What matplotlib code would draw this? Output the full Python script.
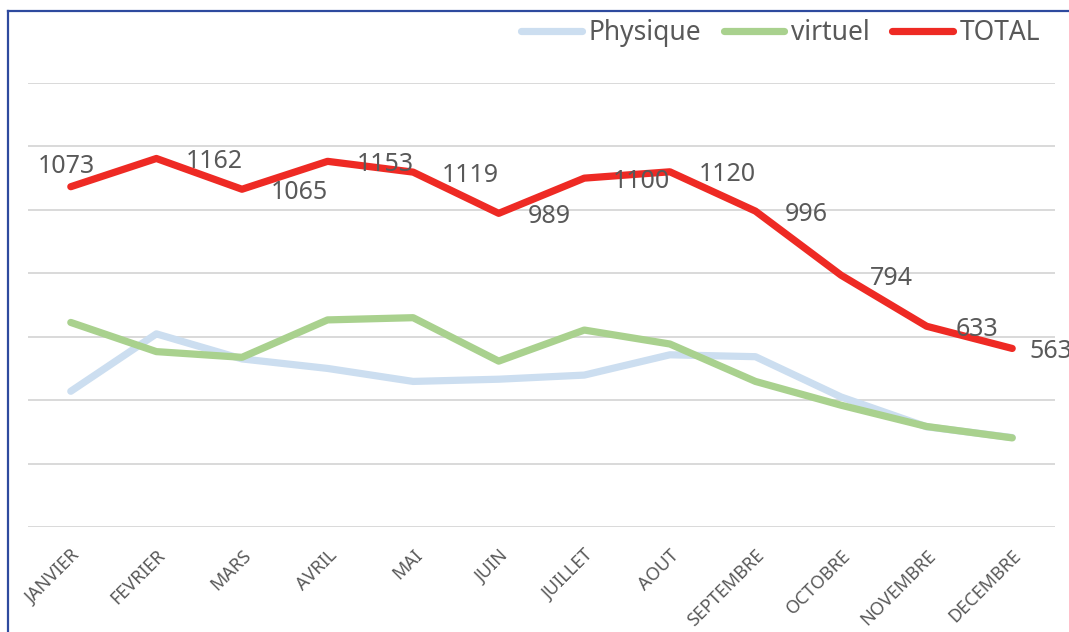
import matplotlib
matplotlib.use("Agg")
import matplotlib.pyplot as plt
from matplotlib.lines import Line2D

plt.rcParams['font.family'] = ['Noto Sans', 'DejaVu Sans']

months = ["JANVIER", "FEVRIER", "MARS", "AVRIL", "MAI", "JUIN",
          "JUILLET", "AOUT", "SEPTEMBRE", "OCTOBRE", "NOVEMBRE", "DECEMBRE"]
physique = [428, 609, 530, 500, 459, 466, 479, 543, 537, 410, 316, 282]
virtuel = [645, 553, 535, 653, 660, 523, 621, 577, 459, 384, 317, 281]
total = [1073, 1162, 1065, 1153, 1119, 989, 1100, 1120, 996, 794, 633, 563]

W, H = 1069, 632
fig = plt.figure(figsize=(W / 100, H / 100), dpi=100)
ax = fig.add_axes([28 / W, 1 - 527 / H, (1055 - 28) / W, (527 - 83) / H])

x = list(range(len(months)))
text_col = "#595959"

ax.plot(x, physique, color="#CCDEF0", lw=5.2, solid_capstyle="round",
        solid_joinstyle="round", label="Physique", zorder=3)
ax.plot(x, virtuel, color="#A9D18E", lw=5.2, solid_capstyle="round",
        solid_joinstyle="round", label="virtuel", zorder=4)
ax.plot(x, total, color="#EE2A24", lw=5.2, solid_capstyle="round",
        solid_joinstyle="round", label="TOTAL", zorder=5)

# value labels for the total line
for i, v in enumerate(total):
    if i == 0:
        ax.annotate(str(v), (i, v), xytext=(-4, 20), textcoords="offset pixels",
                    ha="center", va="center", fontsize=18, color=text_col, zorder=6)
    else:
        dx = 17 if i == len(total) - 1 else 29
        ax.annotate(str(v), (i, v), xytext=(dx, -3), textcoords="offset pixels",
                    ha="left", va="center", fontsize=18, color=text_col, zorder=6,
                    annotation_clip=False)

ax.set_xlim(-0.5, len(months) - 0.5)
ax.set_ylim(0, 1400)
ax.set_yticks(range(0, 1401, 200))
ax.yaxis.grid(True, color="#D9D9D9", lw=1.4)
ax.set_axisbelow(True)
ax.tick_params(axis="y", left=False, labelleft=False)
ax.tick_params(axis="x", length=0, pad=14)
ax.set_xticks(x)
ax.set_xticklabels(months, rotation=45, ha="right", rotation_mode="anchor",
                   fontsize=13, color=text_col)
for lbl in ax.get_xticklabels():
    lbl.set_x(lbl.get_position()[0])
for s in ax.spines.values():
    s.set_visible(False)

leg = ax.legend(loc="center right", bbox_to_anchor=(1040 / W, 1 - 33 / H),
                bbox_transform=fig.transFigure, ncol=3, frameon=False,
                fontsize=19, handlelength=2.3, handletextpad=0.25,
                columnspacing=0.85, borderaxespad=0, borderpad=0)
for t in leg.get_texts():
    t.set_color(text_col)

# frame around the figure
fig.add_artist(Line2D([8 / W, 8 / W], [0, 1 - 11 / H], color="#2E4A9E", lw=1.6,
                      transform=fig.transFigure))
fig.add_artist(Line2D([8 / W, 1], [1 - 11 / H, 1 - 11 / H], color="#2E4A9E", lw=1.6,
                      transform=fig.transFigure))

fig.savefig("out.png", dpi=100, facecolor="white")
